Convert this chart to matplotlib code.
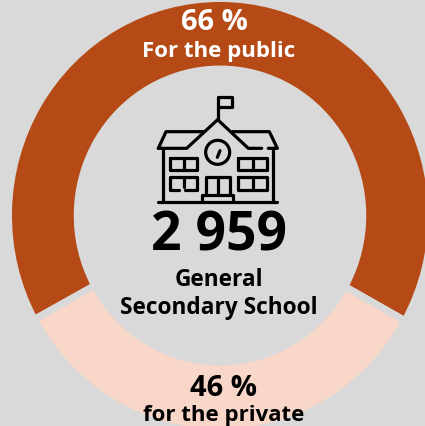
import matplotlib
matplotlib.use("Agg")
import matplotlib.pyplot as plt
from matplotlib.patches import Circle

shares = [66, 34]
colors = ["#B54A17", "#F8D7C9"]
label_public = "66 %"
label_private = "46 %"
name_public = "For the public"
name_private = "for the private"
total = "2 959"
center_lines = ["General", "Secondary School"]
BG = "#D9D9D9"
W, H = 425, 427
CX, CY, RX, RY = 220, 216.5, 211.5, 217
FONT = "Open Sans"

fig = plt.figure(figsize=(W / 100, H / 100), dpi=100, facecolor=BG)
ax = fig.add_axes([0, 0, 1, 1])
ax.pie(shares, colors=colors, startangle=-29, radius=1, counterclock=True,
       wedgeprops=dict(width=1 - 0.675, edgecolor=BG, linewidth=5))
ax.set_aspect("auto")
ax.set_xlim(-CX / RX, (W - CX) / RX)
ax.set_ylim(-(H - CY) / RY, CY / RY)
ax.axis("off")

ov = fig.add_axes([0, 0, 1, 1])
ov.set_xlim(0, W)
ov.set_ylim(H, 0)
ov.axis("off")
ov.patch.set_alpha(0)

def txt(x, y, s, size, color="black"):
    ov.text(x, y, s, fontsize=size, color=color, ha="center", va="center",
            fontweight="bold", family=FONT)

txt(214.5, 22, label_public, 21, "white")
txt(219, 52, name_public, 16, "white")
txt(223.5, 389, label_private, 21)
txt(224, 416, name_private, 16)
txt(219.5, 237, total, 38.5)
txt(219, 280, center_lines[0], 16.3)
txt(219, 308, center_lines[1], 16.3)

# school icon, drawn in the reference's crop units
def P(pts):
    return [140 + x / 3 for x, y in pts], [90 + y / 3 for x, y in pts]

icon_paths = [
    [(233, 92), (233, 25), (275, 25), (275, 55), (233, 55)],
    [(55, 178), (140, 178), (233, 92), (325, 178), (365, 178)],
    [(55, 178), (78, 128), (190, 128)],
    [(278, 128), (388, 128), (412, 178), (385, 178)],
    [(68, 178), (68, 340)],
    [(400, 178), (400, 340)],
    [(55, 340), (412, 340)],
    [(232, 205), (240, 185)],
    [(90, 208), (172, 208), (172, 244), (90, 244), (90, 208)],
    [(131, 208), (131, 244)],
    [(295, 208), (380, 208), (380, 244), (295, 244), (295, 208)],
    [(338, 208), (338, 244)],
    [(118, 302), (90, 302), (90, 265), (172, 265), (172, 302), (135, 302)],
    [(131, 265), (131, 295)],
    [(295, 265), (380, 265), (380, 302), (295, 302), (295, 265)],
    [(338, 265), (338, 302)],
    [(197, 318), (197, 265), (270, 265), (270, 318)],
    [(233, 265), (233, 318)],
    [(187, 340), (187, 318), (280, 318), (280, 340)],
]
for path in icon_paths:
    xs, ys = P(path)
    ov.plot(xs, ys, color="black", lw=2.3, solid_capstyle="round", solid_joinstyle="round")
ov.add_patch(Circle((140 + 233 / 3, 90 + 190 / 3), 12, fill=False, ec="black", lw=2.3))

fig.savefig("out.png", dpi=100, facecolor=BG)
